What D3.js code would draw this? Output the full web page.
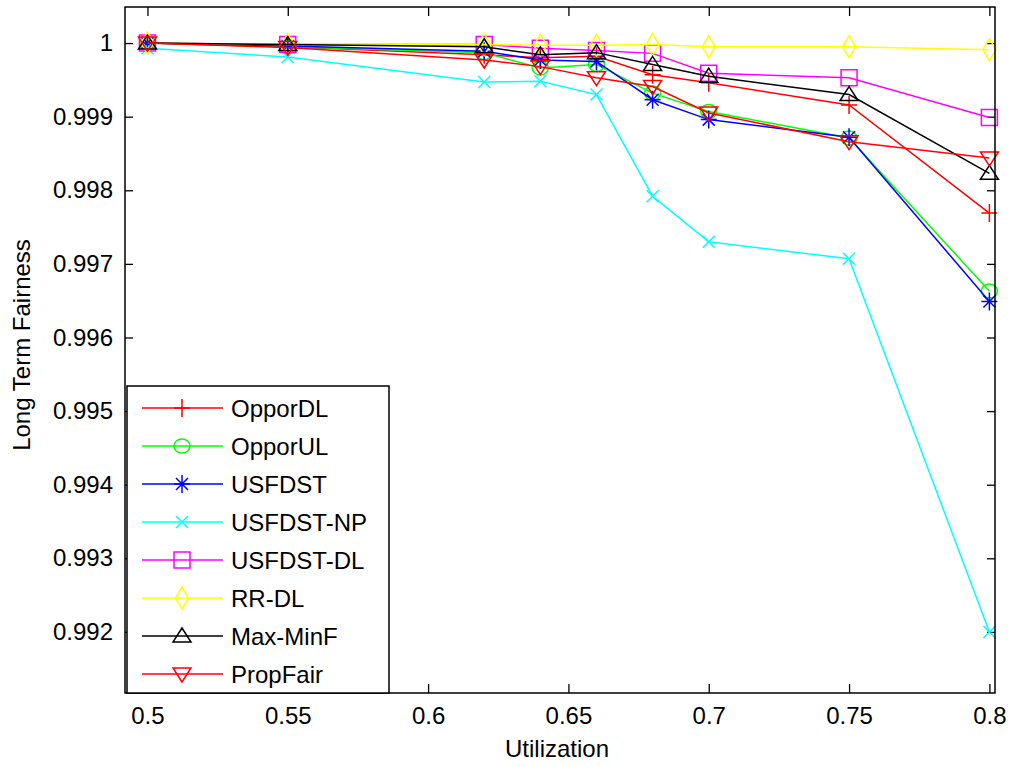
<!DOCTYPE html>
<html>
<head>
<meta charset="utf-8">
<script src="https://cdn.jsdelivr.net/npm/d3@7"></script>
<style>
  body { margin: 0; background: #fff; }
  text { font-family: "Liberation Sans", Arial, sans-serif; fill: #000; }
</style>
</head>
<body>
<div id="chart"></div>
<script>
// Data
var utilization = [0.5, 0.55, 0.62, 0.64, 0.66, 0.68, 0.7, 0.75, 0.8];

var opporDL   = [1.0, 0.99995, 0.99984, 0.9998, 0.99982, 0.99957, 0.99946, 0.99916, 0.99769];
var opporUL   = [1.0, 0.99995, 0.99987, 0.99966, 0.99971, 0.99932, 0.99907, 0.99871, 0.99663];
var usfdst    = [1.0, 0.99996, 0.99989, 0.99977, 0.99975, 0.99923, 0.99896, 0.99872, 0.99649];
var usfdstNP  = [0.99993, 0.99981, 0.99947, 0.99948, 0.9993, 0.99792, 0.9973, 0.99707, 0.992];
var usfdstDL  = [1.0, 0.99998, 0.99998, 0.99993, 0.9999, 0.99986, 0.99959, 0.99953, 0.99899];
var rrDL      = [1.0, 0.99998, 0.99998, 0.99997, 0.99997, 0.99998, 0.99995, 0.99995, 0.99991];
var maxMinF   = [1.0, 0.99998, 0.99995, 0.99984, 0.99987, 0.99971, 0.99955, 0.9993, 0.99823];
var propFair  = [1.0, 0.99994, 0.99977, 0.99968, 0.99953, 0.99941, 0.99905, 0.99866, 0.99844];

var seriesNames   = ["OpporDL", "OpporUL", "USFDST", "USFDST-NP", "USFDST-DL", "RR-DL", "Max-MinF", "PropFair"];
var seriesValues  = [opporDL, opporUL, usfdst, usfdstNP, usfdstDL, rrDL, maxMinF, propFair];
var seriesColors  = ["#ff0000", "#00ff00", "#0000ff", "#00ffff", "#ff00ff", "#ffff00", "#000000", "#ff0000"];
var seriesMarkers = ["plus", "circle", "star", "cross", "square", "diamond", "triUp", "triDown"];

var xTicks = [0.5, 0.55, 0.6, 0.65, 0.7, 0.75, 0.8];
var xTickLabels = ["0.5", "0.55", "0.6", "0.65", "0.7", "0.75", "0.8"];
var yTicks = [0.992, 0.993, 0.994, 0.995, 0.996, 0.997, 0.998, 0.999, 1];
var yTickLabels = ["0.992", "0.993", "0.994", "0.995", "0.996", "0.997", "0.998", "0.999", "1"];

// Layout
var W = 1010, H = 767;
var plot = {left: 125, top: 7, right: 995, bottom: 693};

var svg = d3.select("#chart")
  .append("svg")
    .attr("width", W)
    .attr("height", H);

var x = d3.scaleLinear()
  .domain([0.492, 0.802])
  .range([plot.left, plot.right]);

var y = d3.scaleLinear()
  .domain([0.99117, 1.00049])
  .range([plot.bottom, plot.top]);

// Axes (ticks point inward, on all four sides)
var fontSize = "24px";

var xAxis = svg.append("g")
  .attr("transform", `translate(0,${plot.bottom})`)
  .call(d3.axisBottom(x).tickValues(xTicks)
    .tickFormat((d, i) => xTickLabels[i])
    .tickSizeInner(-9).tickSizeOuter(0).tickPadding(14));
svg.append("g")
  .attr("transform", `translate(0,${plot.top})`)
  .call(d3.axisTop(x).tickValues(xTicks).tickFormat("")
    .tickSizeInner(-9).tickSizeOuter(0));

var yAxis = svg.append("g")
  .attr("transform", `translate(${plot.left},0)`)
  .call(d3.axisLeft(y).tickValues(yTicks)
    .tickFormat((d, i) => yTickLabels[i])
    .tickSizeInner(-8).tickSizeOuter(0).tickPadding(12));
svg.append("g")
  .attr("transform", `translate(${plot.right},0)`)
  .call(d3.axisRight(y).tickValues(yTicks).tickFormat("")
    .tickSizeInner(-8).tickSizeOuter(0));

svg.selectAll(".domain").remove();
svg.selectAll(".tick line").attr("stroke", "#000").attr("stroke-width", 1.3);
svg.selectAll(".tick text")
  .style("font-size", fontSize)
  .attr("fill", "#000");

// Marker shapes
function markerPath(type) {
  switch (type) {
    case "plus":    return "M-8,0H8M0,-9V9";
    case "star":    return "M-8,0H8M0,-9V9M-6,-6L6,6M-6,6L6,-6";
    case "cross":   return "M-6,-6L6,6M-6,6L6,-6";
    case "square":  return "M-8,-8H8V8H-8Z";
    case "diamond": return "M0,-11L6.5,0L0,11L-6.5,0Z";
    case "triUp":   return "M0,-8L9,6L-9,6Z";
    case "triDown": return "M0,8L9,-6L-9,-6Z";
  }
  return null;
}

function drawMarker(g, type, color) {
  if (type === "circle") {
    g.append("ellipse")
      .attr("rx", 8).attr("ry", 7)
      .attr("fill", "none")
      .attr("stroke", color)
      .attr("stroke-width", 1.5);
  } else {
    g.append("path")
      .attr("d", markerPath(type))
      .attr("fill", "none")
      .attr("stroke", color)
      .attr("stroke-width", 1.5);
  }
}

// Lines and markers
var line = d3.line()
  .x((d, i) => x(utilization[i]))
  .y(d => y(d));

seriesValues.forEach(function(vals, s) {
  var g = svg.append("g");
  g.append("path")
    .datum(vals)
    .attr("d", line)
    .attr("fill", "none")
    .attr("stroke", seriesColors[s])
    .attr("stroke-width", 1.5);
  g.selectAll("g.mk")
    .data(vals)
    .enter()
    .append("g")
      .attr("class", "mk")
      .attr("transform", (d, i) => `translate(${x(utilization[i])},${y(d)})`)
      .each(function() { drawMarker(d3.select(this), seriesMarkers[s], seriesColors[s]); });
});

// Frame
svg.append("rect")
  .attr("x", plot.left).attr("y", plot.top)
  .attr("width", plot.right - plot.left)
  .attr("height", plot.bottom - plot.top)
  .attr("fill", "none")
  .attr("stroke", "#000")
  .attr("stroke-width", 1.5);

// Legend
var legend = svg.append("g");
legend.append("rect")
  .attr("x", 127).attr("y", 386)
  .attr("width", 262).attr("height", 307)
  .attr("fill", "#fff")
  .attr("stroke", "#000")
  .attr("stroke-width", 1.5);

seriesNames.forEach(function(name, s) {
  var ly = 408 + s * 38;
  legend.append("line")
    .attr("x1", 142).attr("x2", 223)
    .attr("y1", ly).attr("y2", ly)
    .attr("stroke", seriesColors[s])
    .attr("stroke-width", 1.5);
  drawMarker(legend.append("g").attr("transform", `translate(182,${ly})`),
    seriesMarkers[s], seriesColors[s]);
  legend.append("text")
    .attr("x", 231).attr("y", ly + 9)
    .style("font-size", fontSize)
    .text(name);
});

// Axis labels
svg.append("text")
  .attr("x", (plot.left + plot.right) / 2 - 3)
  .attr("y", 757)
  .attr("text-anchor", "middle")
  .style("font-size", fontSize)
  .text("Utilization");

svg.append("text")
  .attr("transform", "translate(30,345) rotate(-90)")
  .attr("text-anchor", "middle")
  .style("font-size", fontSize)
  .text("Long Term Fairness");
</script>
</body>
</html>
